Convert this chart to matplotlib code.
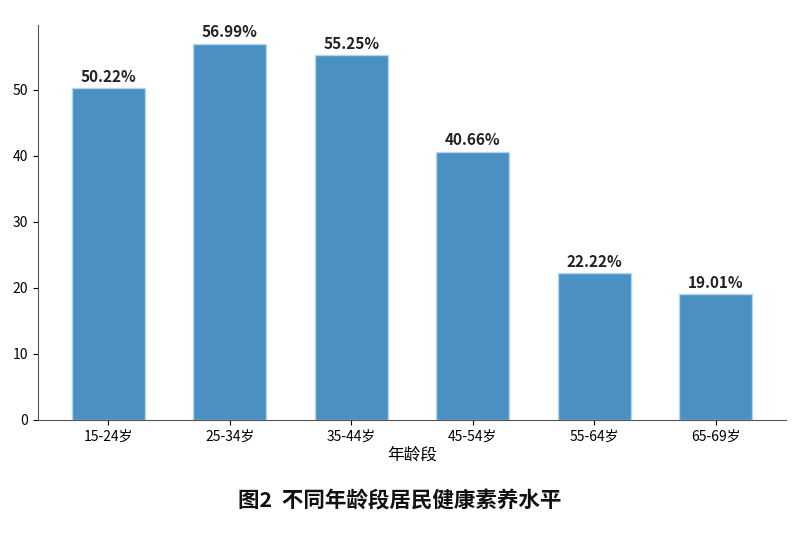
import matplotlib
matplotlib.use("Agg")
import matplotlib.pyplot as plt

plt.rcParams['font.family'] = ['Noto Sans CJK SC', 'DejaVu Sans']

categories = ["15-24岁", "25-34岁", "35-44岁", "45-54岁", "55-64岁", "65-69岁"]
values = [50.22, 56.99, 55.25, 40.66, 22.22, 19.01]
labels = ["50.22%", "56.99%", "55.25%", "40.66%", "22.22%", "19.01%"]

fig = plt.figure(figsize=(8, 5.37), dpi=100)
ax = fig.add_axes([0.0475, 0.218, 0.935, 0.7356])

x = range(len(categories))
bars = ax.bar(x, values, width=0.6, color='#4A90C2', edgecolor='#B5D6EE', linewidth=1)
for b, lab in zip(bars, labels):
    ax.text(b.get_x() + b.get_width() / 2, b.get_height() + 0.5, lab,
            ha='center', va='bottom', fontsize=11, fontweight='bold', color='#222222')

ax.set_xticks(list(x))
ax.set_xticklabels(categories, fontsize=10)
ax.set_yticks([0, 10, 20, 30, 40, 50])
ax.tick_params(axis='y', labelsize=10)
ax.set_ylim(0, max(values) * 1.05)
ax.set_xlim(-0.58, 5.58)
ax.spines['top'].set_visible(False)
ax.spines['right'].set_visible(False)
ax.spines['left'].set_color('#555555')
ax.spines['bottom'].set_color('#555555')
ax.set_xlabel("年龄段", fontsize=12, labelpad=2)

fig.text(0.5, 0.068, "图2  不同年龄段居民健康素养水平", ha='center', va='center',
         fontsize=15.5, fontweight='bold', color='#111111')

fig.savefig("out.png", dpi=100)
